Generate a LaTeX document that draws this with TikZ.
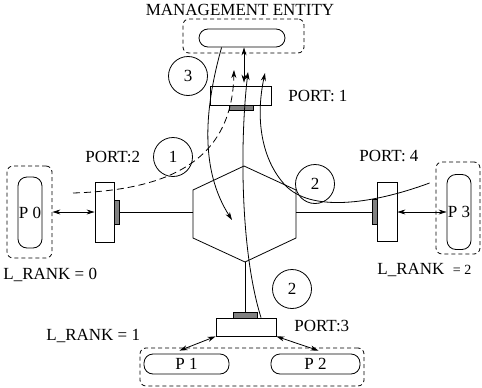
\documentclass[tikz,border=0pt]{standalone}
\usepackage{fontspec}
\setmainfont{Liberation Serif}
\usetikzlibrary{arrows.meta,positioning}

\begin{document}
\begin{tikzpicture}[x=1pt, y=-1pt, line width=0.8pt,
      >={Stealth[length=8pt, width=5pt, inset=2.5pt]},
      font=\fontsize{17}{20}\selectfont,
      pill/.style = {draw, rounded corners=9pt, inner sep=0pt},
      group/.style = {draw, dash pattern=on 4pt off 3pt, rounded corners=6pt, inner sep=0pt},
      portbox/.style = {draw, inner sep=0pt},
      bar/.style = {draw, fill=gray, inner sep=0pt},
      num/.style = {draw, circle, minimum size=39pt, inner sep=0pt},
      txt/.style = {inner sep=0pt}]
      \useasboundingbox (0,0) rectangle (482,388);

      \node[txt] (mgmttxt) at (240,10) {MANAGEMENT ENTITY};
      \node[group, minimum width=121pt, minimum height=34pt] (mgmtgrp) at (243.5,36) {};
      \node[pill, minimum width=86pt, minimum height=18pt] (mgmt) at (242,38) {};
      \node[num] (c3) at (188,76) {3};
      \node[portbox, minimum width=61pt, minimum height=19pt] (port1) at (240.5,95.5) {};
      \node[bar, minimum width=24pt, minimum height=5pt] (bar1) at (241,107.5) {};
      \node[txt, anchor=west] (port1txt) at (288,96) {PORT: 1};

      \node[portbox, minimum width=19pt, minimum height=60pt] (port2) at (104.5,212) {};
      \node[bar, minimum width=5pt, minimum height=24pt] (bar2) at (116.5,212) {};
      \node[txt, anchor=west] (port2txt) at (85,157) {PORT:2};
      \node[num] (c1) at (173,157) {1};
      \node[group, minimum width=45pt, minimum height=92pt] (p0grp) at (29.5,212) {};
      \node[pill, minimum width=24pt, minimum height=71pt] (p0) at (30,212.5) {P 0};
      \node[txt, anchor=west] (rank0) at (3,275) {L\_RANK = 0};

      \node[portbox, minimum width=20pt, minimum height=59pt] (port4) at (387,212) {};
      \node[bar, minimum width=5pt, minimum height=25pt] (bar4) at (374.5,212) {};
      \node[txt, anchor=west] (port4txt) at (359,156) {PORT: 4};
      \node[num] (c2a) at (315,184) {2};
      \node[group, minimum width=44pt, minimum height=92pt] (p3grp) at (458,208) {};
      \node[pill, minimum width=24pt, minimum height=75pt] (p3) at (459,212) {P 3};
      \node[txt, anchor=west] (rank2) at (377,270) {L\_RANK\ \ {\fontsize{14}{16}\selectfont = 2}};

      \node[portbox, minimum width=60pt, minimum height=18pt] (port3) at (246,327) {};
      \node[bar, minimum width=24pt, minimum height=6pt] (bar3) at (245,315) {};
      \node[num] (c2b) at (292,289) {2};
      \node[txt, anchor=west] (port3txt) at (294,326) {PORT:3};
      \node[txt, anchor=west] (rank1) at (46,336) {L\_RANK = 1};
      \node[group, minimum width=224pt, minimum height=38pt] (pgrp) at (252,367) {};
      \node[pill, minimum width=85pt, minimum height=20pt] (p1) at (186.5,364) {P 1};
      \node[pill, minimum width=89pt, minimum height=20pt] (p2) at (315.5,364) {P 2};

      \draw (244,166) -- (296,190) -- (296,238) -- (245,262) coordinate (hexB)
        -- (193,238) -- (193,190) -- cycle;
      \coordinate (hexL) at (193,212);
      \coordinate (hexR) at (296,212);
      \coordinate (in1) at (73,193);
      \coordinate (out1) at (234,70);
      \coordinate (out2a) at (265,73);
      \coordinate (out2b) at (248,72);
      \coordinate (out3) at (232,220);

      \draw (hexL) -- (bar2);
      \draw (hexR) -- (bar4);
      \draw (hexB) -- (bar3);

      \draw[<->] (p0grp) -- (port2);
      \draw[<->] (port4) -- (p3);
      \draw[<->] (port3.south west) -- ([shift={(-7pt,3pt)}]p1.north);
      \draw[<->] (port3.south east) -- ([shift={(3pt,3pt)}]p2.north);
      \draw[<->, shorten >=3pt] ([xshift=2pt]mgmt.south) -- ([xshift=2pt]mgmt.south |- port1.north);

      \draw[->] ([xshift=23pt]mgmt.south west) .. controls (204,110) and (200,170) .. (out3);
      \draw[->, dash pattern=on 7pt off 4pt] (in1) .. controls (170,190) and (232,160) .. (out1);
      \draw[->] ([xshift=15pt]port3.north) .. controls (240,250) and (240,140) .. (out2b);
      \draw[->] ([shift={(-6pt,25pt)}]p3grp.west) .. controls (370,205) and (310,212) .. (285,185)
        .. controls (262,160) and (255,120) .. (out2a);
    \end{tikzpicture}
\end{document}
